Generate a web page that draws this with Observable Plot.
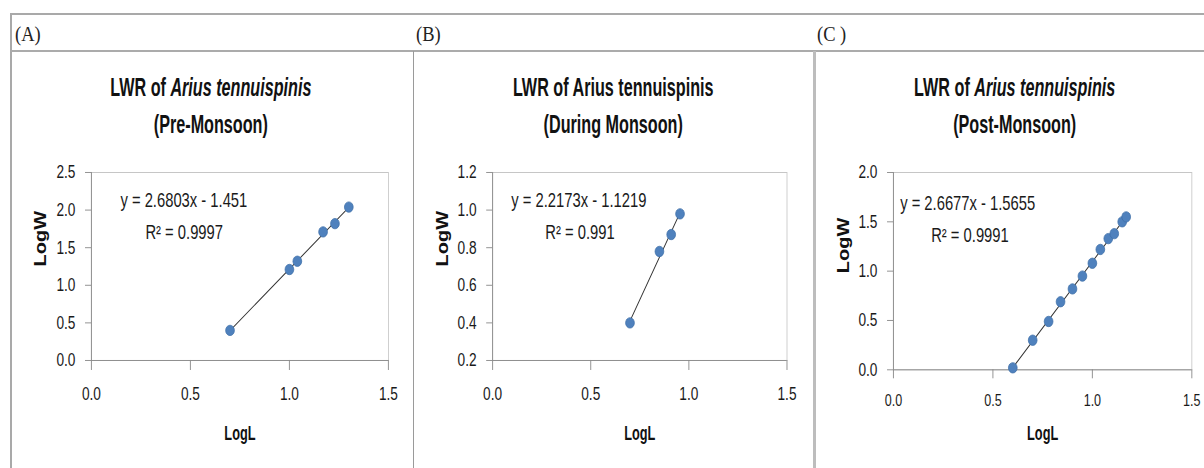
<!DOCTYPE html>
<html><head><meta charset="utf-8">
<script src="https://cdn.jsdelivr.net/npm/d3@7"></script>
<script src="https://cdn.jsdelivr.net/npm/@observablehq/plot@0.6"></script>
<style>
html,body{margin:0;padding:0;background:#fff;overflow:hidden}
#page{position:relative;width:1204px;height:468px;overflow:hidden;background:#fff}
#scaled{position:absolute;left:0;top:0;height:468px;transform-origin:0 0}
#scaled svg{position:absolute;top:0}
.hdr{position:absolute;font-family:"Liberation Serif","Times New Roman",serif;font-size:22px;color:#222;line-height:1;white-space:pre}
.title{position:absolute;font-family:"Liberation Sans",Arial,sans-serif;font-weight:bold;font-size:25px;color:#111;white-space:nowrap;transform:translate(-50%,-50%) scaleX(0.77);line-height:1}
.bline{position:absolute}
</style></head><body><div id="page"><div id="scaled"></div></div>
<script>
// ---- data ----
const preLogL = [0.70, 1.00, 1.04, 1.17, 1.23, 1.30];
const preLogW = [0.40, 1.21, 1.32, 1.71, 1.82, 2.04];
const duringLogL = [0.70, 0.85, 0.91, 0.955];
const duringLogW = [0.40, 0.78, 0.87, 0.98];
const postLogL = [0.60, 0.70, 0.78, 0.84, 0.90, 0.95, 1.00, 1.04, 1.08, 1.11, 1.15, 1.17];
const postLogW = [0.02, 0.30, 0.49, 0.69, 0.82, 0.95, 1.08, 1.22, 1.33, 1.38, 1.50, 1.55];
const xTicks = [0, 0.5, 1.0, 1.5];
const preYTicks = [0, 0.5, 1.0, 1.5, 2.0, 2.5];
const duringYTicks = [0.2, 0.4, 0.6, 0.8, 1.0, 1.2];
const postYTicks = [0, 0.5, 1.0, 1.5, 2.0];
const headers = ["(A)", "(B)", "(C )"];
const titleItalic = [true, false, true];
const seasons = ["(Pre-Monsoon)", "(During Monsoon)", "(Post-Monsoon)"];
const equations = ["y = 2.6803x - 1.451", "y = 2.2173x - 1.1219", "y = 2.6677x - 1.5655"];
const r2Labels = ["R\u00B2 = 0.9997", "R\u00B2 = 0.991", "R\u00B2 = 0.9991"];
const xLabel = "LogL";
const yLabel = "LogW";

// ---- layout ----
const S = 0.84; // horizontal squeeze of the original image
const scaled = document.getElementById("scaled");
scaled.style.width = (1204 / S) + "px";
scaled.style.transform = `scaleX(${S})`;
const sans = "'Liberation Sans',Arial,sans-serif";

const layout = [
  {svgL: 0, svgR: 405, frameL: 91, frameR: 388, frameB: 360, cx: 211, hx: 15, eq1: 120, eq2: 145, eqY: 200, wX: 40, wDy: 0, xPad: 16, xTS: 10, xFont: 18.5},
  {svgL: 405, svgR: 805, frameL: 492.3, frameR: 786.7, frameB: 360, cx: 613, hx: 416, eq1: 511, eq2: 545, eqY: 200, wX: 442, wDy: 0, xPad: 16, xTS: 10, xFont: 18.5},
  {svgL: 805, svgR: 1204, frameL: 893.3, frameR: 1191.7, frameB: 369.3, cx: 1015, hx: 817, eq1: 900, eq2: 931, eqY: 203, wX: 843, wDy: 2, xPad: 15, xTS: 9, xFont: 17}
];
const series = [[preLogL, preLogW, preYTicks], [duringLogL, duringLogW, duringYTicks], [postLogL, postLogW, postYTicks]];

function condense(svg, cls, f) {
  svg.querySelectorAll(`.${cls} text, text.${cls}`).forEach(t => {
    const len = t.getComputedTextLength();
    t.setAttribute("textLength", len * f);
    t.setAttribute("lengthAdjust", "spacingAndGlyphs");
  });
}

series.forEach(([xs, ys, yTicks], i) => {
  const c = layout[i];
  const data = xs.map((x, j) => ({LogL: x, LogW: ys[j]}));
  const yDom = [yTicks[0], yTicks[yTicks.length - 1]];
  const top = 172;
  const plot = Plot.plot({
    width: (c.svgR - c.svgL) / S,
    height: 468,
    marginLeft: (c.frameL - c.svgL) / S,
    marginRight: (c.svgR - c.frameR) / S,
    marginTop: top,
    marginBottom: 468 - c.frameB,
    style: {background: "transparent", overflow: "visible", fontFamily: sans, fontSize: "18px", color: "#222"},
    x: {domain: [0, 1.5]},
    y: {domain: yDom},
    marks: [
      Plot.frame({stroke: "#c6c6c6"}),
      Plot.axisX({ticks: xTicks, tickFormat: d3.format(".1f"), tickSize: c.xTS, tickPadding: c.xPad, stroke: "#8a8a8a", fill: "#1a1a1a", fontSize: c.xFont, label: null, className: "tkx"}),
      Plot.axisY({ticks: yTicks, tickFormat: d3.format(".1f"), tickSize: 6 / S, tickPadding: 10 / S, stroke: "#8a8a8a", fill: "#1a1a1a", fontSize: 18.5, label: null, className: "tky"}),
      Plot.ruleY([yDom[0]], {stroke: "#8a8a8a"}),
      Plot.ruleX([0], {stroke: "#8a8a8a"}),
      Plot.linearRegressionY(data, {x: "LogL", y: "LogW", stroke: "#333", strokeWidth: 1.1, ci: 0}),
      Plot.dot(data, {x: "LogL", y: "LogW", r: 5.2, fill: "#4f81bd", stroke: "#3d6ea8", strokeWidth: 0.8}),
      Plot.text([equations[i]], {frameAnchor: "top-left", dx: (c.eq1 - c.frameL) / S, dy: c.eqY - top, textAnchor: "start", lineAnchor: "middle", fontSize: 20, fontFamily: sans, fill: "#1a1a1a", className: "eq"}),
      Plot.text([r2Labels[i]], {frameAnchor: "top-left", dx: (c.eq2 - c.frameL) / S, dy: c.eqY + 32 - top, textAnchor: "start", lineAnchor: "middle", fontSize: 20, fontFamily: sans, fill: "#1a1a1a", className: "eq"}),
      Plot.text([xLabel], {frameAnchor: "bottom", dy: 433 - c.frameB, lineAnchor: "middle", fontFamily: sans, fontWeight: "bold", fontSize: 20, fill: "#111", className: "xlab"}),
      Plot.text([yLabel], {frameAnchor: "left", dx: (c.wX - c.frameL) / S, dy: c.wDy, rotate: -90, lineAnchor: "middle", fontFamily: sans, fontWeight: "bold", fontSize: 20, fill: "#111"})
    ]
  });
  plot.style.left = (c.svgL / S) + "px";
  scaled.appendChild(plot);
  // condense texts like the original's narrow font
  condense(plot, "xlab", 0.76);
  condense(plot, "eq", 0.88);
  condense(plot, "tkx", 0.88);
  condense(plot, "tky", 0.88);

  const h = document.createElement("div");
  h.className = "hdr";
  h.textContent = headers[i];
  h.style.left = (c.hx / S) + "px";
  h.style.top = "23px";
  scaled.appendChild(h);

  const t1 = document.createElement("div");
  t1.className = "title";
  t1.innerHTML = titleItalic[i] ? "LWR of <i>Arius tennuispinis</i>" : "LWR of Arius tennuispinis";
  t1.style.left = (c.cx / S) + "px";
  t1.style.top = "87px";
  scaled.appendChild(t1);

  const t2 = document.createElement("div");
  t2.className = "title";
  t2.textContent = seasons[i];
  t2.style.left = (c.cx / S) + "px";
  t2.style.top = "124px";
  scaled.appendChild(t2);
});

// ---- panel borders (page coordinates) ----
const page = document.getElementById("page");
[
  [10, 13, 1194, 2, "#a9a9a9"],
  [10, 13, 2, 455, "#a9a9a9"],
  [10, 50, 1194, 2, "#ababab"],
  [413, 51, 1, 417, "#9a9a9a"],
  [813, 51, 2.5, 417, "#bdbdbd"]
].forEach(([l, t, w, hgt, col]) => {
  const d = document.createElement("div");
  d.className = "bline";
  Object.assign(d.style, {left: l + "px", top: t + "px", width: w + "px", height: hgt + "px", background: col});
  page.appendChild(d);
});
</script></body></html>
